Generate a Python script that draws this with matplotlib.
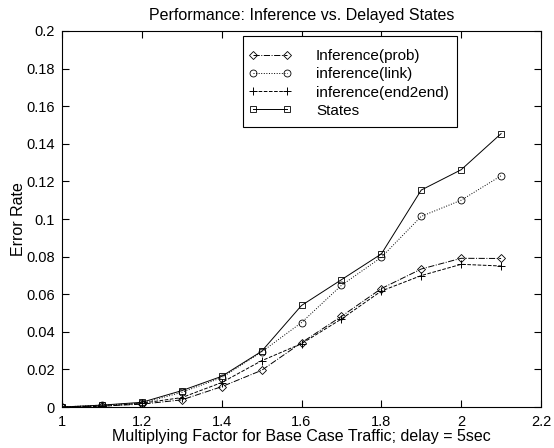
import matplotlib
matplotlib.use('Agg')
import matplotlib.pyplot as plt
from matplotlib.patches import Rectangle
import numpy as np

plt.rcParams['font.family'] = ['Liberation Sans', 'DejaVu Sans']
plt.rcParams['font.size'] = 11

# data
traffic = [1.0, 1.1, 1.2, 1.3, 1.4, 1.5, 1.6, 1.7, 1.8, 1.9, 2.0, 2.1]
inf_prob = [0.0, 0.0005, 0.0015, 0.0038, 0.0108, 0.0195, 0.0342, 0.0482, 0.063, 0.0734, 0.0791, 0.079]
inf_link = [0.0, 0.001, 0.002, 0.0078, 0.0156, 0.0293, 0.0449, 0.0647, 0.0796, 0.1014, 0.110, 0.123]
inf_e2e = [0.0, 0.0003, 0.002, 0.005, 0.013, 0.0246, 0.0337, 0.0468, 0.0617, 0.0699, 0.0759, 0.075]
states = [0.0, 0.001, 0.0025, 0.0087, 0.0163, 0.0296, 0.054, 0.0677, 0.0814, 0.1154, 0.1262, 0.1454]

labels = ['Inference(prob)', 'inference(link)', 'inference(end2end)', 'States']
xticks = [1, 1.2, 1.4, 1.6, 1.8, 2, 2.2]
yticks = [0, 0.02, 0.04, 0.06, 0.08, 0.1, 0.12, 0.14, 0.16, 0.18, 0.2]

fig = plt.figure(figsize=(5.54, 4.48), dpi=100)
ax = fig.add_axes([62/554, 1 - 407/448, 479/554, 376/448])

lw = 0.7
ms = 5
ax.plot(traffic, inf_prob, color='k', linestyle='-.', linewidth=lw, marker='D',
        markersize=ms - 0.8, markerfacecolor='none', markeredgewidth=0.6, label=labels[0])
ax.plot(traffic, inf_link, color='k', linestyle=':', linewidth=lw, marker='o',
        markersize=ms, markerfacecolor='none', markeredgewidth=0.6, label=labels[1])
ax.plot(traffic, inf_e2e, color='k', linestyle='--', linewidth=lw, marker='+',
        markersize=ms + 1.2, markeredgewidth=0.7, label=labels[2])
ax.plot(traffic, states, color='k', linestyle='-', linewidth=lw, marker='s',
        markersize=ms - 0.5, markerfacecolor='none', markeredgewidth=0.6, label=labels[3])

ax.set_xlim(1, 2.2)
ax.set_ylim(0, 0.2)
ax.set_xticks(xticks)
ax.set_xticklabels(['1', '1.2', '1.4', '1.6', '1.8', '2', '2.2'])
ax.set_yticks(yticks)
ax.set_yticklabels(['0', '0.02', '0.04', '0.06', '0.08', '0.1', '0.12', '0.14', '0.16', '0.18', '0.2'])
ax.tick_params(direction='in', length=5, width=0.8, top=True, right=True, labelsize=10.5)
ax.tick_params(axis='x', pad=6)
ax.tick_params(axis='y', pad=5)
for s in ax.spines.values():
    s.set_linewidth(0.8)

ax.set_title('Performance: Inference vs. Delayed States', fontsize=11.5, pad=8)
ax.set_xlabel('Multiplying Factor for Base Case Traffic; delay = 5sec', fontsize=11.5, labelpad=0)
ax.set_ylabel('Error Rate', fontsize=11.5, labelpad=0)

# legend box drawn by hand, MATLAB style: wider vertical padding than matplotlib gives
box = Rectangle((0.377, 0.745), 0.824 - 0.377, 0.987 - 0.745, transform=ax.transAxes,
                facecolor='white', edgecolor='k', linewidth=0.8, zorder=4)
ax.add_patch(box)
leg = ax.legend(loc='upper left', bbox_to_anchor=(0.377, 0.968), borderaxespad=0, numpoints=2,
                handlelength=2.8, handletextpad=1.6, borderpad=0.41, labelspacing=0.27,
                frameon=False, fontsize=11)
leg.set_zorder(5)

fig.savefig('out.png', dpi=100)
